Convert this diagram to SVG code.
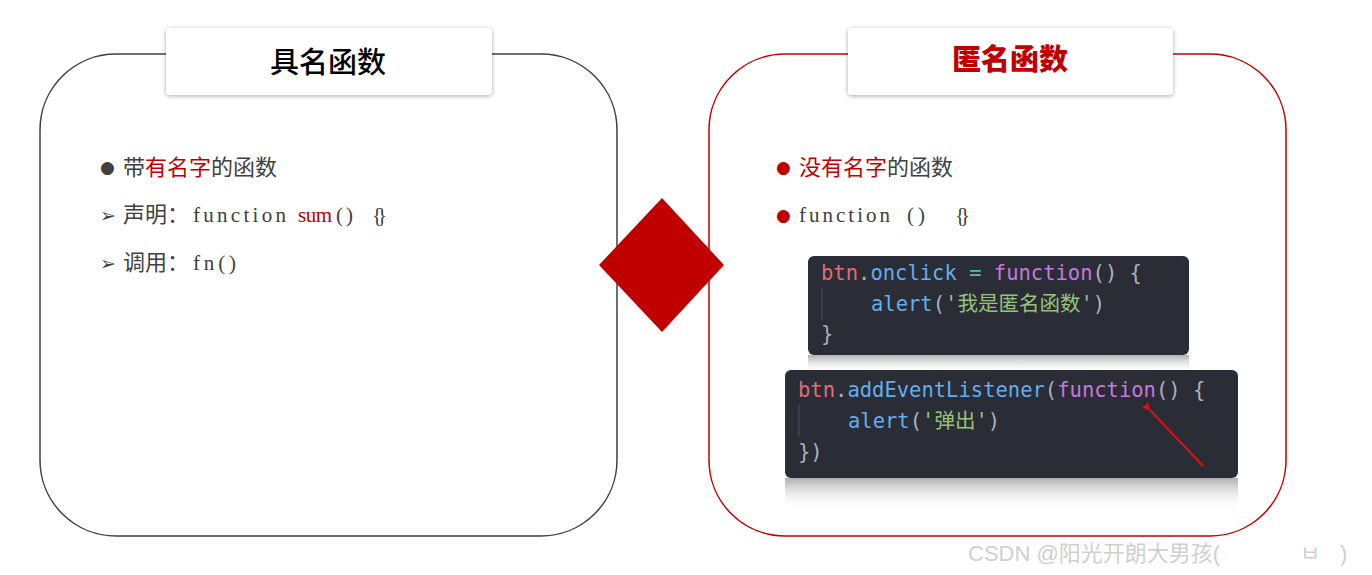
<svg xmlns="http://www.w3.org/2000/svg" width="1372" height="575" viewBox="0 0 1372 575">
<style>
.body{font-family:"Noto Sans CJK SC","Noto Sans",sans-serif;font-size:22px;fill:#404040}
.mono{font-family:"Liberation Serif","Noto Sans CJK SC",serif;font-size:21px;fill:#404040}
.red{fill:#c00000}
.bul{font-family:"DejaVu Sans",sans-serif;font-size:17px}
.code{font-family:"DejaVu Sans Mono","Noto Sans CJK SC",monospace;font-size:20.5px;fill:#abb2bf}
.k{fill:#e06c75}.p{fill:#61afef}.f{fill:#c678dd}.o{fill:#56b6c2}.s{fill:#98c379}
.title{font-family:"Noto Sans CJK SC",sans-serif;font-size:29px;text-anchor:middle}
</style>
<defs>
<filter id="sh" x="-10%" y="-20%" width="120%" height="150%">
<feDropShadow dx="0" dy="1" stdDeviation="2" flood-color="#000" flood-opacity="0.35"/>
</filter>
<linearGradient id="refl" x1="0" y1="0" x2="0" y2="1">
<stop offset="0" stop-color="#9a9a9a"/>
<stop offset="1" stop-color="#ffffff" stop-opacity="0"/>
</linearGradient>
<marker id="ah" markerWidth="8" markerHeight="8" refX="1" refY="4" orient="auto" markerUnits="userSpaceOnUse">
<path d="M8,0 L0,4 L8,8 z" fill="#e01010"/>
</marker>
</defs>
<rect width="1372" height="575" fill="#fff"/>

<g id="named">
<rect x="40" y="54" width="577" height="482" rx="76" ry="76" fill="#fff" stroke="#404040" stroke-width="1.5"/>
<rect x="166" y="28" width="326" height="67" rx="4" fill="#fff" filter="url(#sh)"/>
<text class="title" x="328" y="73" fill="#000" font-weight="500">具名函数</text>
<text class="bul" x="100" y="173" fill="#404040">●</text>
<text class="body" x="123" y="175">带<tspan class="red">有名字</tspan>的函数</text>
<text x="100" y="222" font-family="DejaVu Sans" font-size="19" fill="#404040">➢</text>
<text class="body" x="123" y="222">声明：</text>
<text class="mono" y="222"><tspan x="193" textLength="93" lengthAdjust="spacing">function</tspan><tspan x="298" class="red" textLength="34" lengthAdjust="spacing">sum</tspan><tspan x="336" textLength="17" lengthAdjust="spacing">()</tspan><tspan x="372" textLength="15" lengthAdjust="spacing">{}</tspan></text>
<text x="100" y="270" font-family="DejaVu Sans" font-size="19" fill="#404040">➢</text>
<text class="body" x="123" y="270">调用：</text>
<text class="mono" x="193" y="270" textLength="43" lengthAdjust="spacing">fn()</text>
</g>

<g id="anonymous">
<rect x="709" y="54" width="577" height="482" rx="76" ry="76" fill="#fff" stroke="#c00000" stroke-width="1.5"/>
<rect x="848" y="28" width="325" height="67" rx="4" fill="#fff" filter="url(#sh)"/>
<text class="title red" x="1010" y="70" font-weight="900">匿名函数</text>
<text class="bul red" x="776" y="173">●</text>
<text class="body" x="799" y="175"><tspan class="red">没有名字</tspan>的函数</text>
<text class="bul red" x="776" y="221">●</text>
<text class="mono" y="222"><tspan x="799" textLength="91" lengthAdjust="spacing">function</tspan><tspan x="907" textLength="18" lengthAdjust="spacing">()</tspan><tspan x="955" textLength="15" lengthAdjust="spacing">{}</tspan></text>

<g id="code1">
<rect x="808" y="355" width="381" height="18" fill="url(#refl)" opacity="0.8"/>
<rect x="808" y="256" width="381" height="99" rx="6" fill="#2a2c36"/>
<line x1="822" y1="288" x2="822" y2="320" stroke="#3e4150" stroke-width="1.5"/>
<text class="code" x="821" y="280"><tspan class="k">btn</tspan>.<tspan class="p">onclick</tspan> <tspan class="o">=</tspan> <tspan class="f">function</tspan>() {</text>
<text class="code" x="871" y="311"><tspan class="p">alert</tspan>(<tspan class="s">'我是匿名函数'</tspan>)</text>
<text class="code" x="821" y="341">}</text>
</g>

<g id="code2">
<rect x="785" y="478" width="453" height="32" fill="url(#refl)" opacity="0.8"/>
<rect x="785" y="370" width="453" height="108" rx="6" fill="#2a2c36"/>
<line x1="799" y1="405" x2="799" y2="437" stroke="#3e4150" stroke-width="1.5"/>
<text class="code" x="798" y="397"><tspan class="k">btn</tspan>.<tspan class="p">addEventListener</tspan>(<tspan class="f">function</tspan>() {</text>
<text class="code" x="848" y="428"><tspan class="p">alert</tspan>(<tspan class="s">'弹出'</tspan>)</text>
<text class="code" x="798" y="459">})</text>
</g>
</g>

<g id="connectors">
<line x1="1203" y1="466" x2="1150" y2="410" stroke="#e01010" stroke-width="2" marker-end="url(#ah)"/>
</g>

<g id="diamond">
<polygon points="662,198 724,265 662,332 599,265" fill="#c00000"/>
</g>

<g id="watermark">
<text x="968" y="561" font-family="Liberation Sans,'Noto Sans CJK SC','Noto Sans CJK KR',sans-serif" font-size="22" fill="#cfcfcf">CSDN @阳光开朗大男孩(<tspan x="1300">ㅂ</tspan><tspan x="1340">)</tspan></text>
</g>
</svg>
